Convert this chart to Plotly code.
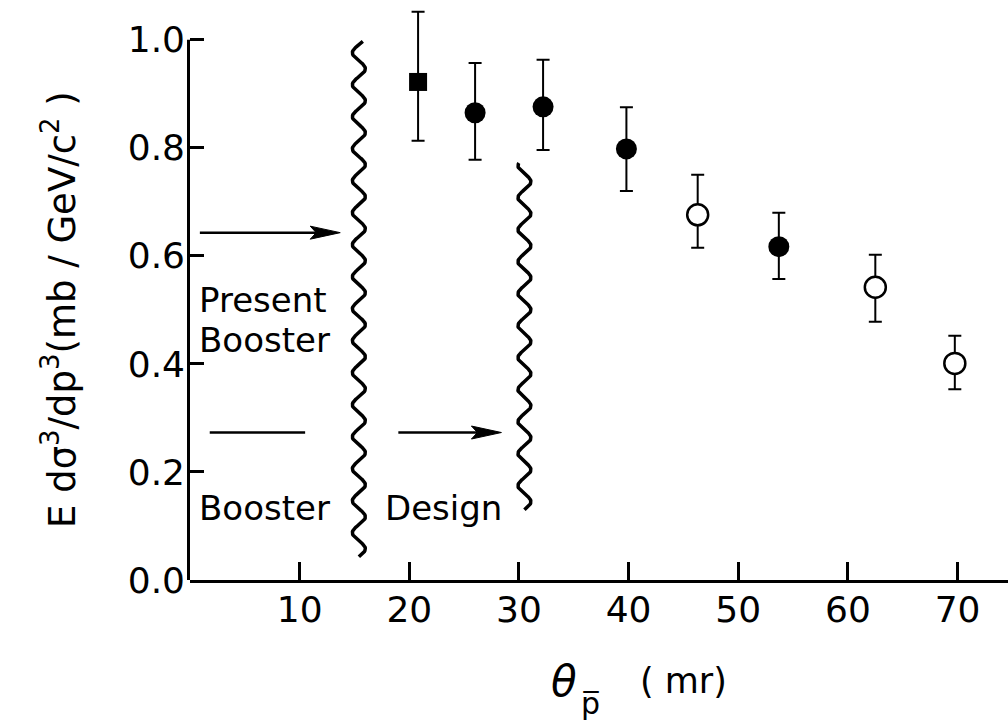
import numpy as np
import plotly.graph_objects as go

# ---- measured cross sections (theta in mr, E d3sigma/dp3 in mb/GeV^2/c^3)
theta_square = [20.8]
sigma_square = [0.922]
square_err_up = [0.130]
square_err_down = [0.109]

theta_filled = [26.0, 32.2, 39.8, 53.7]
sigma_filled = [0.865, 0.876, 0.798, 0.617]
filled_err_up = [0.092, 0.087, 0.077, 0.063]
filled_err_down = [0.087, 0.080, 0.078, 0.060]

theta_open = [46.3, 62.5, 69.75]
sigma_open = [0.676, 0.542, 0.401]
open_err_up = [0.074, 0.060, 0.051]
open_err_down = [0.061, 0.064, 0.048]

x_ticks = [10, 20, 30, 40, 50, 60, 70]
y_ticks = [0.0, 0.2, 0.4, 0.6, 0.8, 1.0]
y_tick_text = ["0.0", "0.2", "0.4", "0.6", "0.8", "1.0"]

# acceptance limits drawn as wavy boundaries: (theta, y_low, y_high)
present_limit = (15.4, 0.043, 0.997)
design_limit = (30.5, 0.13, 0.772)

# arrows / bars marking the acceptance ranges: (theta_start, theta_end, y)
present_arrow = (0.9, 13.7, 0.643)
booster_bar = (1.8, 10.5, 0.273)
design_arrow = (19.0, 28.4, 0.273)

FONT = "DejaVu Sans"
X_RANGE = [0, 74.6]
Y_RANGE = [0, 1.07]
L, R, T, B = 190, 0, 2, 143
W, H = 1008, 723
PW, PH = W - L - R, H - T - B
px_x = (X_RANGE[1] - X_RANGE[0]) / PW   # data units per pixel
px_y = (Y_RANGE[1] - Y_RANGE[0]) / PH


def paper_x(px):
    return (px - L) / PW


def paper_y(py):
    return (H - B - py) / PH


fig = go.Figure()

err_style = dict(type="data", symmetric=False, color="black", thickness=2, width=6.5)

fig.add_trace(go.Scatter(
    x=theta_square, y=sigma_square, mode="markers",
    marker=dict(symbol="square", size=18, color="black"),
    error_y=dict(array=square_err_up, arrayminus=square_err_down, **err_style),
    showlegend=False, cliponaxis=False))

fig.add_trace(go.Scatter(
    x=theta_filled, y=sigma_filled, mode="markers",
    marker=dict(symbol="circle", size=21, color="black"),
    error_y=dict(array=filled_err_up, arrayminus=filled_err_down, **err_style),
    showlegend=False, cliponaxis=False))

fig.add_trace(go.Scatter(
    x=theta_open, y=sigma_open, mode="markers",
    marker=dict(symbol="circle", size=21, color="white",
                line=dict(color="black", width=2.5)),
    error_y=dict(array=open_err_up, arrayminus=open_err_down, **err_style),
    showlegend=False, cliponaxis=False))


def squiggle(limit, amp_px=6.5, period_px=32):
    xc, y0, y1 = limit
    t = np.linspace(y0, y1, 600)
    phase = (t - y0) / (period_px * px_y) * 2 * np.pi
    return xc + amp_px * px_x * np.sin(phase), t


for lim in (present_limit, design_limit):
    wx, wy = squiggle(lim)
    fig.add_trace(go.Scatter(x=wx, y=wy, mode="lines",
                             line=dict(color="black", width=3.5),
                             showlegend=False, hoverinfo="skip", cliponaxis=False))

shapes = []


def arrow(spec, head=True):
    x0, x1, y = spec
    head_len = 30 * px_x
    half_w = 6.5 * px_y
    shaft_end = x1 - head_len * 0.8 if head else x1
    shapes.append(dict(type="line", xref="x", yref="y", x0=x0, x1=shaft_end,
                       y0=y, y1=y, line=dict(color="black", width=2.5)))
    if head:
        path = (f"M{x1},{y} L{x1 - head_len},{y + half_w} "
                f"L{x1 - head_len * 0.8},{y} L{x1 - head_len},{y - half_w} Z")
        shapes.append(dict(type="path", xref="x", yref="y", path=path,
                           fillcolor="black", line=dict(color="black", width=1)))


arrow(present_arrow)
arrow(booster_bar, head=False)
arrow(design_arrow)

# left axis spine, ending at 1.0
shapes.append(dict(type="line", xref="paper", yref="y",
                   x0=-1.5 / PW, x1=-1.5 / PW, y0=0, y1=1.0,
                   line=dict(color="black", width=3)))

annotations = []
txt_font = dict(family=FONT, size=34, color="black")
for text, x, y in [("Present", 0.6, 0.519), ("Booster", 0.6, 0.444),
                   ("Booster", 0.6, 0.133), ("Design", 17.6, 0.133)]:
    annotations.append(dict(text=text, x=x, y=y, xref="x", yref="y",
                            xanchor="left", yanchor="middle", showarrow=False,
                            font=txt_font))

# y-axis title
annotations.append(dict(
    text="E dσ<sup>3</sup>/dp<sup>3</sup>(mb / GeV/c<sup>2</sup> )",
    xref="paper", yref="paper", x=paper_x(60), y=paper_y(310),
    xanchor="center", yanchor="middle", textangle=-90, showarrow=False,
    font=dict(family=FONT, size=37, color="black")))

# x-axis title: theta with a p-bar subscript, then the unit
annotations.append(dict(
    text="<i>θ</i>", xref="paper", yref="paper", x=paper_x(564), y=paper_y(681),
    xanchor="center", yanchor="middle", showarrow=False,
    font=dict(family=FONT, size=42, color="black")))
annotations.append(dict(
    text="p\u0305", xref="paper", yref="paper", x=paper_x(590), y=paper_y(703),
    xanchor="center", yanchor="middle", showarrow=False,
    font=dict(family=FONT, size=30, color="black")))
annotations.append(dict(
    text="(\u00a0mr)", xref="paper", yref="paper", x=paper_x(683), y=paper_y(681),
    xanchor="center", yanchor="middle", showarrow=False,
    font=dict(family=FONT, size=35, color="black")))

fig.update_layout(
    width=W, height=H,
    margin=dict(l=L, r=R, t=T, b=B),
    plot_bgcolor="white", paper_bgcolor="white",
    shapes=shapes, annotations=annotations,
    xaxis=dict(range=X_RANGE, tickvals=x_ticks, ticks="inside", ticklen=18,
               tickwidth=2.5, tickcolor="black", showline=True, linewidth=3,
               linecolor="black", showgrid=False, zeroline=False,
               tickfont=dict(family=FONT, size=36, color="black"),
               ticklabelstandoff=-4),
    yaxis=dict(range=Y_RANGE, tickvals=y_ticks, ticktext=y_tick_text,
               ticks="inside", ticklen=14, tickwidth=2.5, tickcolor="black",
               showline=False, showgrid=False, zeroline=False,
               tickfont=dict(family=FONT, size=36, color="black"),
               ticklabelstandoff=4),
)

fig.write_html("out.html")
